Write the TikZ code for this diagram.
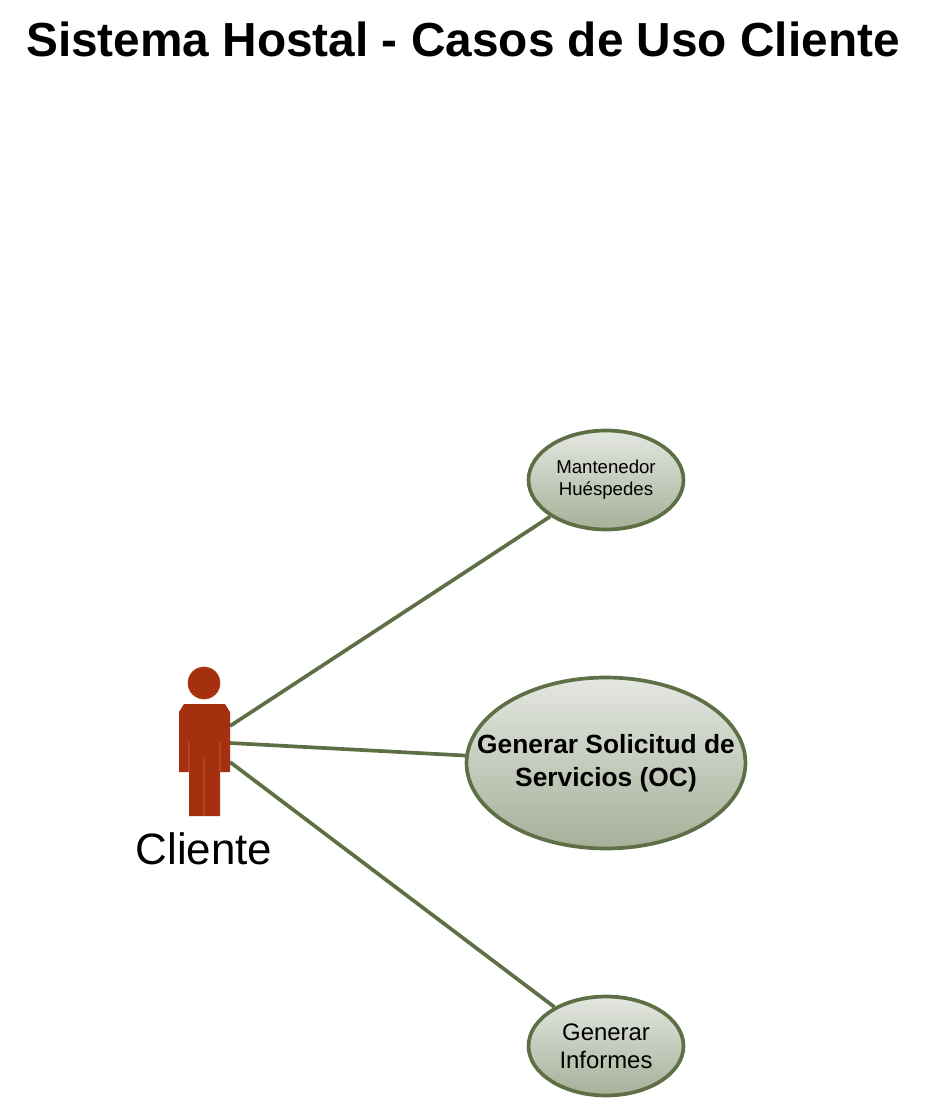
\documentclass[tikz,border=0pt]{standalone}
\usepackage{fontspec}
\setmainfont{Liberation Sans}
\usetikzlibrary{shapes.geometric}
\definecolor{actorred}{HTML}{A5300F}
\definecolor{actorline}{HTML}{B04526}
\definecolor{caseline}{HTML}{5E6F45}
\definecolor{casetop}{HTML}{E4E7E1}
\definecolor{casebottom}{HTML}{A6B099}
\tikzset{
  usecase/.style={ellipse,draw=caseline,line width=2.1pt,top color=casetop,bottom color=casebottom,align=center,inner sep=0pt,text=black},
  link/.style={draw=caseline,line width=2.1pt},
  smallcase/.style={usecase,minimum width=3.1cm,minimum height=1.98cm}
}
\begin{document}
\begin{tikzpicture}[x=0.02cm,y=-0.02cm]
\useasboundingbox (0,0) rectangle (926,1099);
% title
\node[font=\fontsize{27.2}{32}\selectfont\bfseries] (title) at (463,39) {Sistema Hostal - Casos de Uso Cliente};
% attachment points on the actor
\coordinate (actortop) at (230,726);
\coordinate (actormid) at (230,743);
\coordinate (actorlow) at (230,762);
% use cases
\node[smallcase,font=\fontsize{10.6}{12.5}\selectfont] (mantenedor) at (606,480) {Mantenedor\\Huéspedes};
\node[usecase,inner xsep=-0.65cm,inner ysep=-0.3cm,minimum width=5.58cm,minimum height=3.42cm,font=\fontsize{15}{18.7}\selectfont\bfseries] (solicitud) at (606,763) {Generar Solicitud de\\Servicios (OC)};
\node[smallcase,font=\fontsize{13.6}{16}\selectfont] (informes) at (606,1046) {Generar\\Informes};
% links
\draw[link] (actortop) to (mantenedor);
\draw[link] (actormid) to (solicitud);
\draw[link] (actorlow) to (informes);
% actor
\node[circle,fill=actorred,draw=actorline,line width=0.4pt,minimum size=0.64cm,inner sep=0pt] (head) at (204,683) {};
\fill[actorred] (184,704) -- (225,704) -- (230,712) -- (230,772) -- (220,772) -- (220,816) -- (189,816) -- (189,772) -- (179,772) -- (179,712) -- cycle;
\draw[actorline,line width=0.6pt] (189,742) to (189,772);
\draw[actorline,line width=0.6pt] (220,742) to (220,772);
\draw[actorline,line width=0.6pt] (204,757) to (204,816);
% actor label
\node (cliente) at (204,849) {\fontsize{25}{30}\selectfont Cliente};
\end{tikzpicture}
\end{document}
